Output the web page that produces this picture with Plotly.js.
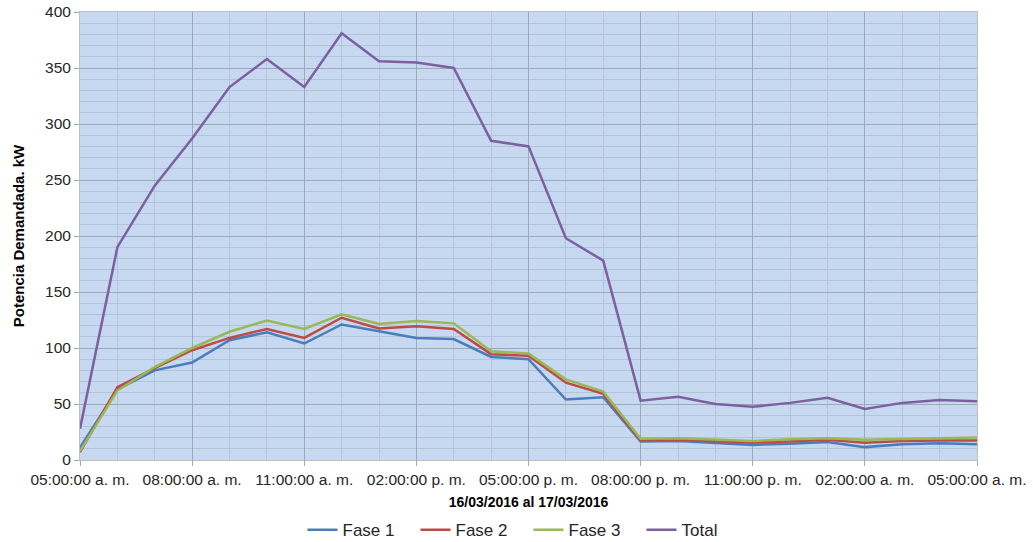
<!DOCTYPE html>
<html>
<head>
<meta charset="utf-8">
<script src="https://cdn.plot.ly/plotly-3.0.1.min.js"></script>
<style>html,body{margin:0;padding:0;background:#fff;}#chart{width:1033px;height:542px;}</style>
</head>
<body>
<div id="chart"></div>
<script>
var times = [
  '2016-03-16 05:00','2016-03-16 06:00','2016-03-16 07:00','2016-03-16 08:00','2016-03-16 09:00',
  '2016-03-16 10:00','2016-03-16 11:00','2016-03-16 12:00','2016-03-16 13:00','2016-03-16 14:00',
  '2016-03-16 15:00','2016-03-16 16:00','2016-03-16 17:00','2016-03-16 18:00','2016-03-16 19:00',
  '2016-03-16 20:00','2016-03-16 21:00','2016-03-16 22:00','2016-03-16 23:00','2016-03-17 00:00',
  '2016-03-17 01:00','2016-03-17 02:00','2016-03-17 03:00','2016-03-17 04:00','2016-03-17 05:00'
];
var fase1 = [11, 63, 80, 87, 107, 114, 104, 121, 115, 109, 108, 92, 90, 54, 56, 16.5, 17, 15, 13.5, 14.5, 16, 11.5, 14, 15, 14];
var fase2 = [7, 65, 82, 98, 109, 117, 109, 127, 117.5, 119.5, 117, 94.5, 93, 69, 59, 17.5, 18, 16.5, 15.5, 16.5, 18, 15.5, 17, 17.5, 17.5];
var fase3 = [8, 62, 83, 100, 114.5, 124.5, 117, 130, 121.5, 124, 122, 97, 95, 72, 61, 19, 19.5, 18, 17, 18.5, 19.5, 18, 18.5, 19.5, 20];
var total = [28, 190, 245, 287, 333, 358, 333, 381, 356, 355, 350, 285, 280, 198, 178, 53, 56.5, 50, 47.5, 51, 55.5, 45.5, 51, 53.5, 52.5];

var tickVals = ['2016-03-16 05:00','2016-03-16 08:00','2016-03-16 11:00','2016-03-16 14:00','2016-03-16 17:00',
                '2016-03-16 20:00','2016-03-16 23:00','2016-03-17 02:00','2016-03-17 05:00'];
var tickText = ['05:00:00 a. m.','08:00:00 a. m.','11:00:00 a. m.','02:00:00 p. m.','05:00:00 p. m.',
                '08:00:00 p. m.','11:00:00 p. m.','02:00:00 a. m.','05:00:00 a. m.'];

var names = ['Fase 1','Fase 2','Fase 3','Total'];
var colors = ['#4a7ebb','#be4b48','#98b954','#7d60a0'];
var series = [fase1, fase2, fase3, total];

var traces = series.map(function(s, i){
  return {x: times, y: s, type: 'scatter', mode: 'lines', name: names[i],
          line: {color: colors[i], width: 2.5}};
});

var font = 'Liberation Sans, Arial, sans-serif';
var layout = {
  width: 1033, height: 542,
  margin: {l: 80, r: 56, t: 12, b: 82, autoexpand: false},
  paper_bgcolor: '#ffffff',
  plot_bgcolor: '#c6d9f1',
  font: {family: font, size: 15, color: '#262626'},
  showlegend: true,
  legend: {orientation: 'h', x: 0.5, xanchor: 'center', yref: 'container', y: 0.022, yanchor: 'middle',
           entrywidth: 68, entrywidthmode: 'pixels',
           font: {family: font, size: 17, color: '#262626'}, itemwidth: 30, traceorder: 'normal'},
  xaxis: {
    type: 'date', automargin: false,
    range: ['2016-03-16 05:00', '2016-03-17 05:00'],
    tickmode: 'array', tickvals: tickVals, ticktext: tickText,
    tickangle: 0,
    ticks: 'outside', ticklen: 5, tickcolor: '#a6a6a6',
    showgrid: true, gridcolor: '#9ea8b6', gridwidth: 1,
    minor: {dtick: 3600000, showgrid: true, gridcolor: '#b3c3d8', gridwidth: 1, ticks: ''},
    showline: true, linecolor: '#bfbfbf', linewidth: 1, mirror: true,
    zeroline: false,
    tickfont: {family: font, size: 15.5, color: '#262626'},
    title: {text: '<b>16/03/2016 al 17/03/2016</b>', font: {family: font, size: 14, color: '#000'}, standoff: 10}
  },
  yaxis: {
    range: [0, 400], dtick: 50, tick0: 0, automargin: false,
    ticks: 'outside', ticklen: 5, tickcolor: '#a6a6a6',
    showgrid: true, gridcolor: '#9ea8b6', gridwidth: 1,
    minor: {dtick: 10, showgrid: true, gridcolor: '#b3c3d8', gridwidth: 1, ticks: ''},
    showline: true, linecolor: '#bfbfbf', linewidth: 1, mirror: true,
    zeroline: false,
    tickfont: {family: font, size: 15.5, color: '#262626'},
    title: {text: '<b>Potencia Demandada. kW</b>', font: {family: font, size: 15, color: '#000'}, standoff: 16}
  }
};

Plotly.newPlot('chart', traces, layout, {displayModeBar: false, staticPlot: true});
</script>
</body>
</html>
